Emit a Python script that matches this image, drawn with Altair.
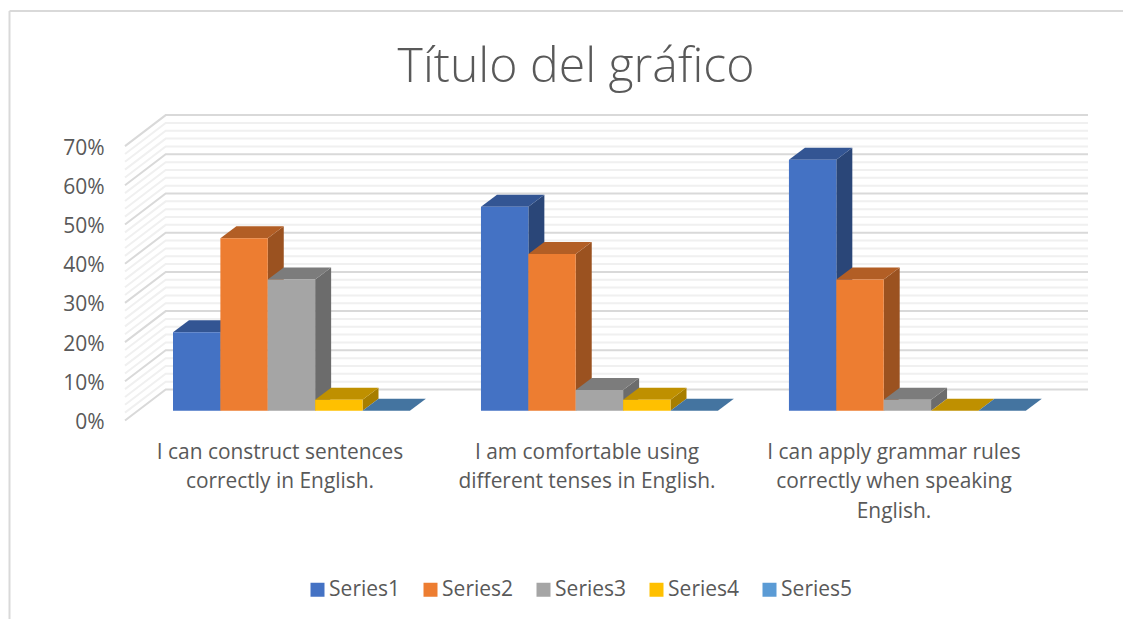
import altair as alt
import pandas as pd

# --- values ---
categories = [
    "I can construct sentences|correctly in English.",
    "I am comfortable using|different tenses in English.",
    "I can apply grammar rules|correctly when speaking|English.",
]
series_names = ["Series1", "Series2", "Series3", "Series4", "Series5"]
series1 = [20, 52, 64]
series2 = [44, 40, 33.5]
series3 = [33.5, 5.3, 2.8]
series4 = [2.8, 2.8, 0]
series5 = [0, 0, 0]
all_series = [series1, series2, series3, series4, series5]

front_colors = ["#4472C4", "#ED7D31", "#A5A5A5", "#FFC000", "#5B9BD5"]
top_colors = ["#335593", "#B25E25", "#7C7C7C", "#BF9000", "#4474A0"]
side_colors = ["#2A4678", "#9B5220", "#6C6C6C", "#A77E00", "#386085"]
axis_ticks = list(range(0, 71, 10))
grid_levels = list(range(0, 71, 2))

# --- geometry of the chart in scale units ---
W, H = 1115, 611
BAR_PX, PCT_PX = 47.38, 3.92
X0_PX, Y0_PX = 173, 420.5


def ux(p):
    return (p - X0_PX) / BAR_PX


def uy(p):
    return (Y0_PX - p) / PCT_PX


x_scale = alt.Scale(domain=[ux(8), ux(8 + W)], range=[0, W], nice=False, zero=False)
y_scale = alt.Scale(domain=[uy(8 + H), uy(8)], range=[H, 0], nice=False, zero=False)
y_axis = alt.Axis(
    values=axis_ticks, labelExpr="datum.value + '%'", title=None, grid=False, domain=False,
    ticks=False, offset=-96, labelPadding=0, labelFont="Open Sans", labelFontSize=21,
    labelColor="#595959", labelFlush=False, labelOverlap=False, labelOffset=2)
X = alt.X("x:Q", scale=x_scale, axis=None)
Y = alt.Y("y:Q", scale=y_scale, axis=y_axis, stack=None)

CAT_STEP = 6.5
BASE = uy(410.7)
DX = 16 / BAR_PX
DY = 12 / PCT_PX

front_rows, side_rows, top_rows = [], [], []
for c in range(len(categories)):
    for s, vals in enumerate(all_series):
        x0 = c * CAT_STEP + s
        x1 = x0 + 1
        v = vals[c] + BASE
        k = f"{c}-{s}"
        front_rows.append(dict(x=x0, x2=x1, y=BASE, y2=v, series=series_names[s]))
        side_rows += [
            dict(k=k, x=x1, y=BASE, y2=v, fill=side_colors[s]),
            dict(k=k, x=x1 + DX, y=BASE + DY, y2=v + DY, fill=side_colors[s]),
        ]
        top_rows += [
            dict(k=k, x=x0, y=v, y2=v, fill=top_colors[s]),
            dict(k=k, x=x0 + DX, y=v, y2=v + DY, fill=top_colors[s]),
            dict(k=k, x=x1, y=v, y2=v + DY, fill=top_colors[s]),
            dict(k=k, x=x1 + DX, y=v + DY, y2=v + DY, fill=top_colors[s]),
        ]

WALL = uy(389.5)
grid_rows = []
for lv in grid_levels:
    grid_rows += [
        dict(level=lv, major=lv % 10 == 0, x=ux(125), y=lv, o=0),
        dict(level=lv, major=lv % 10 == 0, x=ux(165.7), y=lv + WALL, o=1),
        dict(level=lv, major=lv % 10 == 0, x=ux(1088), y=lv + WALL, o=2),
    ]
grid = pd.DataFrame(grid_rows)

minor = alt.Chart(grid[~grid.major]).mark_line(color="#F0F0F0", strokeWidth=2).encode(
    x=X, y=Y, detail="level:N", order="o:Q")
major = alt.Chart(grid[grid.major]).mark_line(color="#D9D9D9", strokeWidth=2).encode(
    x=X, y=Y, detail="level:N", order="o:Q")

sides = alt.Chart(pd.DataFrame(side_rows)).mark_area().encode(
    x=X, y=Y, y2="y2:Q", fill=alt.Fill("fill:N", scale=None), detail="k:N")
tops = alt.Chart(pd.DataFrame(top_rows)).mark_area().encode(
    x=X, y=Y, y2="y2:Q", fill=alt.Fill("fill:N", scale=None), detail="k:N")
fronts = alt.Chart(pd.DataFrame(front_rows)).mark_rect().encode(
    x=X, x2="x2:Q", y=Y, y2="y2:Q",
    color=alt.Color("series:N", scale=alt.Scale(domain=series_names, range=front_colors),
                    legend=alt.Legend(
                        title=None, orient="none", legendX=299, legendY=571, direction="horizontal",
                        columns=5, symbolType="square", symbolSize=196, symbolStrokeWidth=0,
                        labelFont="Open Sans", labelFontSize=21, labelColor="#595959",
                        labelOffset=1.1, columnPadding=19, symbolOpacity=1)),
)

cat_centers = [ux(280), ux(587), ux(894)]
labels = alt.Chart(pd.DataFrame({"x": cat_centers, "y": [uy(452.5)] * 3, "t": categories})).mark_text(
    font="Open Sans", fontSize=20.9, color="#595959", lineBreak="|", lineHeight=29.5,
    align="center", baseline="middle").encode(x=X, y=Y, text="t:N")

frame_left = alt.Chart(pd.DataFrame({"x": [ux(9.5)], "y": [uy(11)], "y2": [uy(8 + H)]})).mark_rule(
    color="#D9D9D9", strokeWidth=2).encode(x=X, y=Y, y2="y2:Q")
frame_top = alt.Chart(pd.DataFrame({"x": [ux(9.5)], "x2": [ux(8 + W)], "y": [uy(11)]})).mark_rule(
    color="#D9D9D9", strokeWidth=2).encode(x=X, x2="x2:Q", y=Y)

chart = alt.layer(frame_left, frame_top, minor, major, sides, tops, fronts, labels).properties(
    width=W, height=H, padding=0, autosize=alt.AutoSizeParams(type="none"),
    title=alt.TitleParams("Título del gráfico", font="Open Sans", fontWeight=300, fontSize=48.2,
                          color="#595959", anchor="middle", baseline="alphabetic", dy=122, dx=10.5, offset=0),
).configure_view(stroke=None)

chart.save("out.html", embed_options={"renderer": "svg", "actions": False})
